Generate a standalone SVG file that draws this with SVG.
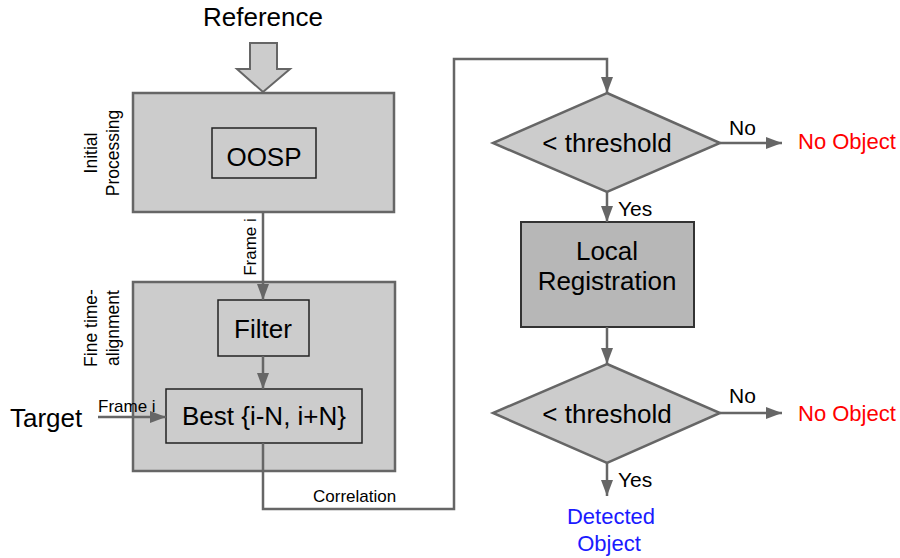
<svg xmlns="http://www.w3.org/2000/svg" width="900" height="558" viewBox="0 0 900 558">
<defs>
<style>
text{font-family:"Liberation Sans",Arial,sans-serif;fill:#000}
.big{font-size:26px}
.mid{font-size:21px}
.obj{font-size:22px}
.sm{font-size:17px}
.lbl{font-size:17.5px}
.c{text-anchor:middle}
.outer{fill:#cccccc;stroke:#666666;stroke-width:2.5}
.inner{fill:#cccccc;stroke:#222222;stroke-width:1.5}
.dia{fill:#cccccc;stroke:#666666;stroke-width:2.5}
.conn{fill:none;stroke:#666666;stroke-width:2.5}
.red{fill:#ff0000}
.blue{fill:#1a1aff}
</style>
<marker id="ah" markerUnits="userSpaceOnUse" markerWidth="16" markerHeight="12" refX="16" refY="6" orient="auto">
<path d="M0,0 L16,6 L0,12 z" fill="#666666"/>
</marker>
</defs>
<rect width="900" height="558" fill="#ffffff"/>

<g id="reference">
<text class="big c" x="263" y="26">Reference</text>
<polygon points="250,43 277,43 277,69 290,69 263,92 237,69 250,69" fill="#cccccc" stroke="#666666" stroke-width="2"/>
</g>

<g id="initial-processing">
<rect class="outer" x="133" y="93" width="261" height="119"/>
<text class="lbl c" transform="translate(97,153) rotate(-90)">Initial</text>
<text class="lbl c" transform="translate(119,153) rotate(-90)">Processing</text>
</g>

<g id="oosp">
<rect class="inner" x="212" y="128" width="104" height="50"/>
<text class="big c" x="264" y="166">OOSP</text>
</g>

<g id="fine-time-alignment">
<rect class="outer" x="133" y="282" width="262" height="189"/>
<text class="lbl c" transform="translate(97,328) rotate(-90)">Fine time-</text>
<text class="lbl c" transform="translate(119,328) rotate(-90)">alignment</text>
</g>

<g id="filter">
<rect class="inner" x="218" y="300" width="91" height="56"/>
<text class="big c" x="263" y="338">Filter</text>
</g>

<g id="best">
<rect class="inner" x="166" y="389" width="196" height="54"/>
<text class="big c" x="264" y="425">Best {i-N, i+N}</text>
</g>

<g id="target">
<text class="big" x="10" y="427">Target</text>
</g>

<g id="threshold1">
<polygon class="dia" points="607,93 720,143 607,192 493,143"/>
<text class="big c" x="607" y="152">&lt; threshold</text>
</g>

<g id="no-object-1">
<text class="obj red" x="798" y="149">No Object</text>
</g>

<g id="local-registration">
<rect x="521" y="222" width="173" height="105" fill="#b7b7b7" stroke="#333333" stroke-width="2"/>
<text class="big c" x="607" y="260">Local</text>
<text class="big c" x="607" y="290">Registration</text>
</g>

<g id="threshold2">
<polygon class="dia" points="607,364 720,413 607,463 493,413"/>
<text class="big c" x="607" y="423">&lt; threshold</text>
</g>

<g id="no-object-2">
<text class="obj red" x="798" y="421">No Object</text>
</g>

<g id="detected-object">
<text class="obj blue c" x="611" y="524">Detected</text>
<text class="obj blue c" x="609" y="551">Object</text>
</g>

<g id="connectors">
<line class="conn" x1="263" y1="212" x2="263" y2="300" marker-end="url(#ah)"/>
<text class="sm c" transform="translate(256,247) rotate(-90)">Frame i</text>
<line class="conn" x1="263" y1="356" x2="263" y2="389" marker-end="url(#ah)"/>
<line class="conn" x1="98" y1="417" x2="166" y2="417" marker-end="url(#ah)"/>
<text class="sm" x="98" y="412">Frame i</text>
<polyline class="conn" points="263,443 263,509 454,509 454,59 607,59 607,93" marker-end="url(#ah)"/>
<text class="sm" x="313" y="502">Correlation</text>
<line class="conn" x1="720" y1="143" x2="782" y2="143" marker-end="url(#ah)"/>
<text class="mid" x="729" y="135">No</text>
<line class="conn" x1="607" y1="192" x2="607" y2="222" marker-end="url(#ah)"/>
<text class="mid" x="618" y="216">Yes</text>
<line class="conn" x1="607" y1="327" x2="607" y2="364" marker-end="url(#ah)"/>
<line class="conn" x1="720" y1="413" x2="782" y2="413" marker-end="url(#ah)"/>
<text class="mid" x="729" y="403">No</text>
<line class="conn" x1="607" y1="463" x2="607" y2="496" marker-end="url(#ah)"/>
<text class="mid" x="618" y="487">Yes</text>
</g>
</svg>
